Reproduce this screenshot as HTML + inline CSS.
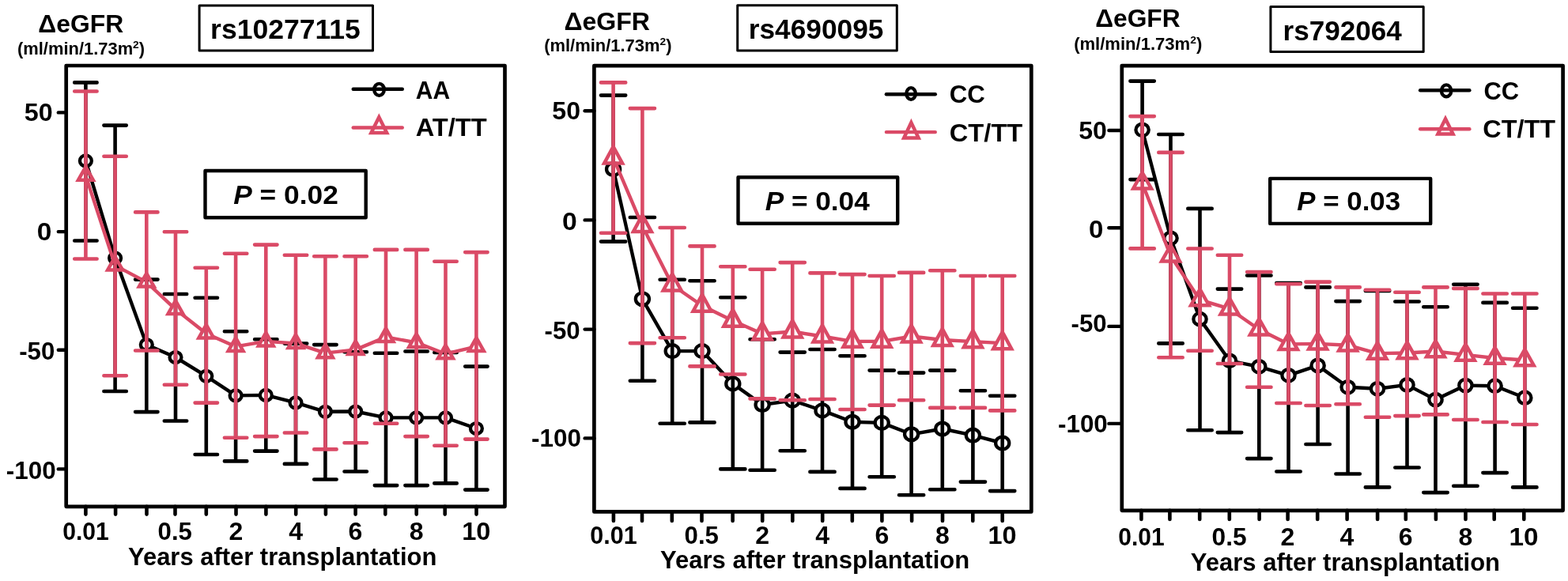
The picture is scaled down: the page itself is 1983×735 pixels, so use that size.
<!DOCTYPE html>
<html><head><meta charset="utf-8"><title>eGFR figure</title>
<style>
html,body{margin:0;padding:0;background:#fff;}
body{width:1983px;height:735px;overflow:hidden;}
svg{display:block;}
text{font-family:'Liberation Sans', Arial, sans-serif;font-weight:bold;fill:#000;}
</style></head>
<body>
<svg width="1983" height="735" viewBox="0 0 1983 735">
<defs><mask id="m0" maskUnits="userSpaceOnUse" x="0" y="0" width="1983" height="735"><rect width="1983" height="735" fill="#fff"/><path d="M108.4 211.08L117.8 227.75H99ZM145.6 324.78L155 341.45H136.2ZM185.3 345.78L194.7 362.45H175.9ZM222 380.28L231.4 396.95H212.6ZM260.8 410.78L270.2 427.45H251.4ZM298.1 427.28L307.5 443.95H288.7ZM336.3 420.78L345.7 437.45H326.9ZM374 423.28L383.4 439.95H364.6ZM411.4 435.48L420.8 452.15H402ZM449.7 431.28L459.1 447.95H440.3ZM488 415.28L497.4 431.95H478.6ZM526.6 422.28L536 438.95H517.2ZM563.5 436.58L572.9 453.25H554.1ZM602.4 427.28L611.8 443.95H593Z" fill="#000"/></mask><mask id="m1" maskUnits="userSpaceOnUse" x="0" y="0" width="1983" height="735"><rect width="1983" height="735" fill="#fff"/><path d="M775.6 185.5L787.06 206.55H764.14ZM812.4 272L823.86 293.05H800.94ZM850.2 346.5L861.66 367.55H838.74ZM888 372.7L899.46 393.75H876.54ZM926.8 391.8L938.26 412.85H915.34ZM964.1 408.3L975.56 429.35H952.64ZM1002.2 405.5L1013.66 426.55H990.74ZM1040 411.5L1051.46 432.55H1028.54ZM1078 417.8L1089.46 438.85H1066.54ZM1115.2 417.8L1126.66 438.85H1103.74ZM1152.6 411.5L1164.06 432.55H1141.14ZM1191.8 416L1203.26 437.05H1180.34ZM1230.4 418.1L1241.86 439.15H1218.94ZM1267.7 420.1L1279.16 441.15H1256.24Z" fill="#000"/></mask><mask id="m2" maskUnits="userSpaceOnUse" x="0" y="0" width="1983" height="735"><rect width="1983" height="735" fill="#fff"/><path d="M1444.6 218.28L1456 238.45H1433.2ZM1480.5 310.28L1491.9 330.45H1469.1ZM1517.5 365.98L1528.9 386.15H1506.1ZM1555 377.28L1566.4 397.45H1543.6ZM1592.3 403.28L1603.7 423.45H1580.9ZM1629.5 421.88L1640.9 442.05H1618.1ZM1666.6 421.38L1678 441.55H1655.2ZM1704.6 423.28L1716 443.45H1693.2ZM1742 433.68L1753.4 453.85H1730.6ZM1779.5 432.98L1790.9 453.15H1768.1ZM1815.5 431.08L1826.9 451.25H1804.1ZM1853.4 435.48L1864.8 455.65H1842ZM1890.6 439.58L1902 459.75H1879.2ZM1928.3 441.98L1939.7 462.15H1916.9Z" fill="#000"/></mask></defs>
<rect width="1983" height="735" fill="#fff"/>
<rect x="83.7" y="83" width="554.8" height="557.8" fill="none" stroke="#000" stroke-width="4.7" stroke-linejoin="round"/>
<line x1="73.8" y1="142.4" x2="83.7" y2="142.4" stroke="#000" stroke-width="4.4" stroke-linecap="round"/>
<text x="30.69" y="152.6" font-size="32" textLength="35.92" lengthAdjust="spacingAndGlyphs">50</text>
<line x1="73.8" y1="293.1" x2="83.7" y2="293.1" stroke="#000" stroke-width="4.4" stroke-linecap="round"/>
<text x="46.85" y="303.6" font-size="32" textLength="18.63" lengthAdjust="spacingAndGlyphs">0</text>
<line x1="73.8" y1="442.8" x2="83.7" y2="442.8" stroke="#000" stroke-width="4.4" stroke-linecap="round"/>
<text x="24.22" y="454.8" font-size="32" textLength="45.09" lengthAdjust="spacingAndGlyphs">-50</text>
<line x1="73.8" y1="593.4" x2="83.7" y2="593.4" stroke="#000" stroke-width="4.4" stroke-linecap="round"/>
<text x="7.82" y="605.7" font-size="32" textLength="62.91" lengthAdjust="spacingAndGlyphs">-100</text>
<line x1="108.4" y1="640.8" x2="108.4" y2="650.6" stroke="#000" stroke-width="4.6" stroke-linecap="round"/>
<text x="79.21" y="682.9" font-size="32" textLength="58.65" lengthAdjust="spacingAndGlyphs">0.01</text>
<line x1="146.1" y1="640.8" x2="146.1" y2="650.6" stroke="#000" stroke-width="4.6" stroke-linecap="round"/>
<line x1="185.5" y1="640.8" x2="185.5" y2="650.6" stroke="#000" stroke-width="4.6" stroke-linecap="round"/>
<line x1="221.5" y1="640.8" x2="221.5" y2="650.6" stroke="#000" stroke-width="4.6" stroke-linecap="round"/>
<text x="199.58" y="682.9" font-size="32" textLength="43.35" lengthAdjust="spacingAndGlyphs">0.5</text>
<line x1="260.8" y1="640.8" x2="260.8" y2="650.6" stroke="#000" stroke-width="4.6" stroke-linecap="round"/>
<line x1="298.5" y1="640.8" x2="298.5" y2="650.6" stroke="#000" stroke-width="4.6" stroke-linecap="round"/>
<text x="289.5" y="682.9" font-size="32" textLength="17.8" lengthAdjust="spacingAndGlyphs">2</text>
<line x1="336.4" y1="640.8" x2="336.4" y2="650.6" stroke="#000" stroke-width="4.6" stroke-linecap="round"/>
<line x1="374.2" y1="640.8" x2="374.2" y2="650.6" stroke="#000" stroke-width="4.6" stroke-linecap="round"/>
<text x="365.2" y="682.9" font-size="32" textLength="17.8" lengthAdjust="spacingAndGlyphs">4</text>
<line x1="411.9" y1="640.8" x2="411.9" y2="650.6" stroke="#000" stroke-width="4.6" stroke-linecap="round"/>
<line x1="449.6" y1="640.8" x2="449.6" y2="650.6" stroke="#000" stroke-width="4.6" stroke-linecap="round"/>
<text x="440.6" y="682.9" font-size="32" textLength="17.8" lengthAdjust="spacingAndGlyphs">6</text>
<line x1="487.3" y1="640.8" x2="487.3" y2="650.6" stroke="#000" stroke-width="4.6" stroke-linecap="round"/>
<line x1="526.7" y1="640.8" x2="526.7" y2="650.6" stroke="#000" stroke-width="4.6" stroke-linecap="round"/>
<text x="517.7" y="682.9" font-size="32" textLength="17.8" lengthAdjust="spacingAndGlyphs">8</text>
<line x1="562.7" y1="640.8" x2="562.7" y2="650.6" stroke="#000" stroke-width="4.6" stroke-linecap="round"/>
<line x1="602.5" y1="640.8" x2="602.5" y2="650.6" stroke="#000" stroke-width="4.6" stroke-linecap="round"/>
<text x="584.16" y="682.9" font-size="32" textLength="36.26" lengthAdjust="spacingAndGlyphs">10</text>
<text x="162.03" y="715.4" font-size="32" textLength="390.3" lengthAdjust="spacingAndGlyphs">Years after transplantation</text>
<text x="48.3" y="40.8" font-size="32" textLength="107.83" lengthAdjust="spacingAndGlyphs">&#916;eGFR</text>
<text x="21.98" y="68.9" font-size="21.5" textLength="161.12" lengthAdjust="spacingAndGlyphs">(ml/min/1.73m<tspan font-size="13.5" dy="-7.9">2</tspan><tspan dy="7.9">)</tspan></text>
<rect x="252.1" y="7" width="219.4" height="56.9" fill="none" stroke="#000" stroke-width="3" stroke-linejoin="round"/>
<text x="266.1" y="49.4" font-size="35.5" textLength="189.66" lengthAdjust="spacingAndGlyphs">rs10277115</text>
<rect x="259.5" y="216" width="203.2" height="59.2" fill="none" stroke="#000" stroke-width="4.4" stroke-linejoin="round"/>
<text x="295.26" y="257.5" font-size="34" textLength="132.51" lengthAdjust="spacingAndGlyphs"><tspan font-style="italic">P</tspan> = 0.02</text>
<polyline points="108.4,203.4 145.6,326.4 185.3,436 222,452 260.8,475.8 298.1,500.4 336.3,499.9 374,509.4 411.4,520.8 449.7,520.5 488,528.4 526.6,528.4 563.5,528.4 602.4,542" fill="none" stroke="#000" stroke-width="4.4" stroke-linejoin="round"/>
<ellipse cx="108.4" cy="203.4" rx="7.45" ry="6.95" fill="#fff" stroke="#000" stroke-width="4.3"/>
<ellipse cx="145.6" cy="326.4" rx="7.45" ry="6.95" fill="#fff" stroke="#000" stroke-width="4.3"/>
<ellipse cx="185.3" cy="436" rx="7.45" ry="6.95" fill="#fff" stroke="#000" stroke-width="4.3"/>
<ellipse cx="222" cy="452" rx="7.45" ry="6.95" fill="#fff" stroke="#000" stroke-width="4.3"/>
<ellipse cx="260.8" cy="475.8" rx="7.45" ry="6.95" fill="#fff" stroke="#000" stroke-width="4.3"/>
<ellipse cx="298.1" cy="500.4" rx="7.45" ry="6.95" fill="#fff" stroke="#000" stroke-width="4.3"/>
<ellipse cx="336.3" cy="499.9" rx="7.45" ry="6.95" fill="#fff" stroke="#000" stroke-width="4.3"/>
<ellipse cx="374" cy="509.4" rx="7.45" ry="6.95" fill="#fff" stroke="#000" stroke-width="4.3"/>
<ellipse cx="411.4" cy="520.8" rx="7.45" ry="6.95" fill="#fff" stroke="#000" stroke-width="4.3"/>
<ellipse cx="449.7" cy="520.5" rx="7.45" ry="6.95" fill="#fff" stroke="#000" stroke-width="4.3"/>
<ellipse cx="488" cy="528.4" rx="7.45" ry="6.95" fill="#fff" stroke="#000" stroke-width="4.3"/>
<ellipse cx="526.6" cy="528.4" rx="7.45" ry="6.95" fill="#fff" stroke="#000" stroke-width="4.3"/>
<ellipse cx="563.5" cy="528.4" rx="7.45" ry="6.95" fill="#fff" stroke="#000" stroke-width="4.3"/>
<ellipse cx="602.4" cy="542" rx="7.45" ry="6.95" fill="#fff" stroke="#000" stroke-width="4.3"/>
<path d="M108.4 104.4V304.5M94.2 104.4H122.6M94.2 304.5H122.6M145.6 158.6V495M131.4 158.6H159.8M131.4 495H159.8M185.3 353.6V521.1M171.1 353.6H199.5M171.1 521.1H199.5M222 372V532.5M207.8 372H236.2M207.8 532.5H236.2M260.8 376.8V575M246.6 376.8H275M246.6 575H275M298.1 419.3V583.4M283.9 419.3H312.3M283.9 583.4H312.3M336.3 429.3V570.6M322.1 429.3H350.5M322.1 570.6H350.5M374 434.6V586.9M359.8 434.6H388.2M359.8 586.9H388.2M411.4 436.1V606.5M397.2 436.1H425.6M397.2 606.5H425.6M449.7 445.3V596.5M435.5 445.3H463.9M435.5 596.5H463.9M488 446.8V614.1M473.8 446.8H502.2M473.8 614.1H502.2M526.6 444.5V614.1M512.4 444.5H540.8M512.4 614.1H540.8M563.5 446V611.4M549.3 446H577.7M549.3 611.4H577.7M602.4 463.6V619.6M588.2 463.6H616.6M588.2 619.6H616.6" fill="none" stroke="#000" stroke-width="4.6" stroke-linecap="round"/>
<polyline points="108.4,222.19 145.6,335.89 185.3,356.89 222,391.39 260.8,421.89 298.1,438.39 336.3,431.89 374,434.39 411.4,446.59 449.7,442.39 488,426.39 526.6,433.39 563.5,447.69 602.4,438.39" fill="none" stroke="#DA4A66" stroke-width="4.4" stroke-linejoin="round" mask="url(#m0)"/>
<path d="M108.4 211.08L117.8 227.75H99ZM145.6 324.78L155 341.45H136.2ZM185.3 345.78L194.7 362.45H175.9ZM222 380.28L231.4 396.95H212.6ZM260.8 410.78L270.2 427.45H251.4ZM298.1 427.28L307.5 443.95H288.7ZM336.3 420.78L345.7 437.45H326.9ZM374 423.28L383.4 439.95H364.6ZM411.4 435.48L420.8 452.15H402ZM449.7 431.28L459.1 447.95H440.3ZM488 415.28L497.4 431.95H478.6ZM526.6 422.28L536 438.95H517.2ZM563.5 436.58L572.9 453.25H554.1ZM602.4 427.28L611.8 443.95H593Z" fill="none" stroke="#DA4A66" stroke-width="4.5" stroke-linejoin="miter"/>
<path d="M108.4 115.5V327.5M94.2 115.5H122.6M94.2 327.5H122.6M145.6 197.8V475.2M131.4 197.8H159.8M131.4 475.2H159.8M185.3 268.4V443.5M171.1 268.4H199.5M171.1 443.5H199.5M222 293.3V486.8M207.8 293.3H236.2M207.8 486.8H236.2M260.8 338.8V509.6M246.6 338.8H275M246.6 509.6H275M298.1 320.7V553.7M283.9 320.7H312.3M283.9 553.7H312.3M336.3 309.6V552.1M322.1 309.6H350.5M322.1 552.1H350.5M374 322.7V547.5M359.8 322.7H388.2M359.8 547.5H388.2M411.4 324.3V568.4M397.2 324.3H425.6M397.2 568.4H425.6M449.7 324.2V560.3M435.5 324.2H463.9M435.5 560.3H463.9M488 315.9V535.8M473.8 315.9H502.2M473.8 535.8H502.2M526.6 315.9V552.1M512.4 315.9H540.8M512.4 552.1H540.8M563.5 330.8V563.8M549.3 330.8H577.7M549.3 563.8H577.7M602.4 319.1V555.6M588.2 319.1H616.6M588.2 555.6H616.6" fill="none" stroke="#DA4A66" stroke-width="4.6" stroke-linecap="round"/>
<line x1="446.7" y1="112.8" x2="508.8" y2="112.8" stroke="#000" stroke-width="4.4" stroke-linecap="round"/>
<ellipse cx="479.5" cy="113.3" rx="6.35" ry="7.5" fill="none" stroke="#000" stroke-width="4.3"/>
<line x1="446.7" y1="161.5" x2="508.8" y2="161.5" stroke="#DA4A66" stroke-width="4.4" stroke-linecap="round"/>
<path d="M479.3 148.18L489.16 167.9H469.44Z" fill="none" stroke="#DA4A66" stroke-width="4.5" stroke-linejoin="miter"/>
<text x="525.75" y="124.8" font-size="31.5" textLength="43.28" lengthAdjust="spacingAndGlyphs">AA</text>
<text x="525.66" y="172.4" font-size="31.5" textLength="90.02" lengthAdjust="spacingAndGlyphs">AT/TT</text>
<rect x="751.4" y="83.1" width="552.9" height="564.3" fill="none" stroke="#000" stroke-width="4.7" stroke-linejoin="round"/>
<line x1="739.6" y1="140.2" x2="751.4" y2="140.2" stroke="#000" stroke-width="4.4" stroke-linecap="round"/>
<text x="698.3" y="151" font-size="32" textLength="35.7" lengthAdjust="spacingAndGlyphs">50</text>
<line x1="739.6" y1="278.4" x2="751.4" y2="278.4" stroke="#000" stroke-width="4.4" stroke-linecap="round"/>
<text x="711.05" y="290.6" font-size="32" textLength="18.75" lengthAdjust="spacingAndGlyphs">0</text>
<line x1="739.6" y1="416.6" x2="751.4" y2="416.6" stroke="#000" stroke-width="4.4" stroke-linecap="round"/>
<text x="688.52" y="428.5" font-size="32" textLength="45.09" lengthAdjust="spacingAndGlyphs">-50</text>
<line x1="739.6" y1="554.4" x2="751.4" y2="554.4" stroke="#000" stroke-width="4.4" stroke-linecap="round"/>
<text x="672.12" y="564.9" font-size="32" textLength="62.91" lengthAdjust="spacingAndGlyphs">-100</text>
<line x1="775.9" y1="647.4" x2="775.9" y2="658.9" stroke="#000" stroke-width="4.6" stroke-linecap="round"/>
<text x="746.35" y="687.9" font-size="32" textLength="59.37" lengthAdjust="spacingAndGlyphs">0.01</text>
<line x1="812" y1="647.4" x2="812" y2="658.9" stroke="#000" stroke-width="4.6" stroke-linecap="round"/>
<line x1="849.8" y1="647.4" x2="849.8" y2="658.9" stroke="#000" stroke-width="4.6" stroke-linecap="round"/>
<line x1="887.5" y1="647.4" x2="887.5" y2="658.9" stroke="#000" stroke-width="4.6" stroke-linecap="round"/>
<text x="865.58" y="687.9" font-size="32" textLength="43.35" lengthAdjust="spacingAndGlyphs">0.5</text>
<line x1="926.6" y1="647.4" x2="926.6" y2="658.9" stroke="#000" stroke-width="4.6" stroke-linecap="round"/>
<line x1="964.2" y1="647.4" x2="964.2" y2="658.9" stroke="#000" stroke-width="4.6" stroke-linecap="round"/>
<text x="955.2" y="687.9" font-size="32" textLength="17.8" lengthAdjust="spacingAndGlyphs">2</text>
<line x1="1002.3" y1="647.4" x2="1002.3" y2="658.9" stroke="#000" stroke-width="4.6" stroke-linecap="round"/>
<line x1="1040.2" y1="647.4" x2="1040.2" y2="658.9" stroke="#000" stroke-width="4.6" stroke-linecap="round"/>
<text x="1031.2" y="687.9" font-size="32" textLength="17.8" lengthAdjust="spacingAndGlyphs">4</text>
<line x1="1077.8" y1="647.4" x2="1077.8" y2="658.9" stroke="#000" stroke-width="4.6" stroke-linecap="round"/>
<line x1="1115.4" y1="647.4" x2="1115.4" y2="658.9" stroke="#000" stroke-width="4.6" stroke-linecap="round"/>
<text x="1106.4" y="687.9" font-size="32" textLength="17.8" lengthAdjust="spacingAndGlyphs">6</text>
<line x1="1153.1" y1="647.4" x2="1153.1" y2="658.9" stroke="#000" stroke-width="4.6" stroke-linecap="round"/>
<line x1="1192" y1="647.4" x2="1192" y2="658.9" stroke="#000" stroke-width="4.6" stroke-linecap="round"/>
<text x="1183" y="687.9" font-size="32" textLength="17.8" lengthAdjust="spacingAndGlyphs">8</text>
<line x1="1230.3" y1="647.4" x2="1230.3" y2="658.9" stroke="#000" stroke-width="4.6" stroke-linecap="round"/>
<line x1="1267.7" y1="647.4" x2="1267.7" y2="658.9" stroke="#000" stroke-width="4.6" stroke-linecap="round"/>
<text x="1249.47" y="687.9" font-size="32" textLength="36.04" lengthAdjust="spacingAndGlyphs">10</text>
<text x="835.03" y="718.7" font-size="32" textLength="391.1" lengthAdjust="spacingAndGlyphs">Years after transplantation</text>
<text x="713.4" y="37.5" font-size="32" textLength="108.65" lengthAdjust="spacingAndGlyphs">&#916;eGFR</text>
<text x="688.18" y="64.6" font-size="21.5" textLength="161.32" lengthAdjust="spacingAndGlyphs">(ml/min/1.73m<tspan font-size="13.5" dy="-7.9">2</tspan><tspan dy="7.9">)</tspan></text>
<rect x="932.7" y="6.8" width="201.6" height="57.3" fill="none" stroke="#000" stroke-width="3" stroke-linejoin="round"/>
<text x="946.81" y="49.3" font-size="35.5" textLength="170.55" lengthAdjust="spacingAndGlyphs">rs4690095</text>
<rect x="933.5" y="224.2" width="201.7" height="58.6" fill="none" stroke="#000" stroke-width="4.4" stroke-linejoin="round"/>
<text x="967.67" y="266.1" font-size="34" textLength="132.07" lengthAdjust="spacingAndGlyphs"><tspan font-style="italic">P</tspan> = 0.04</text>
<polyline points="775.6,214 812.4,378.3 850.2,444.1 888,444.1 926.8,485.4 964.1,512 1002.2,506.6 1040,519.4 1078,533.8 1115.2,534.9 1152.6,549.3 1191.8,542.5 1230.4,550.7 1267.7,560.5" fill="none" stroke="#000" stroke-width="4.4" stroke-linejoin="round"/>
<ellipse cx="775.6" cy="214" rx="8.55" ry="7.95" fill="#fff" stroke="#000" stroke-width="4.3"/>
<ellipse cx="812.4" cy="378.3" rx="8.55" ry="7.95" fill="#fff" stroke="#000" stroke-width="4.3"/>
<ellipse cx="850.2" cy="444.1" rx="8.55" ry="7.95" fill="#fff" stroke="#000" stroke-width="4.3"/>
<ellipse cx="888" cy="444.1" rx="8.55" ry="7.95" fill="#fff" stroke="#000" stroke-width="4.3"/>
<ellipse cx="926.8" cy="485.4" rx="8.55" ry="7.95" fill="#fff" stroke="#000" stroke-width="4.3"/>
<ellipse cx="964.1" cy="512" rx="8.55" ry="7.95" fill="#fff" stroke="#000" stroke-width="4.3"/>
<ellipse cx="1002.2" cy="506.6" rx="8.55" ry="7.95" fill="#fff" stroke="#000" stroke-width="4.3"/>
<ellipse cx="1040" cy="519.4" rx="8.55" ry="7.95" fill="#fff" stroke="#000" stroke-width="4.3"/>
<ellipse cx="1078" cy="533.8" rx="8.55" ry="7.95" fill="#fff" stroke="#000" stroke-width="4.3"/>
<ellipse cx="1115.2" cy="534.9" rx="8.55" ry="7.95" fill="#fff" stroke="#000" stroke-width="4.3"/>
<ellipse cx="1152.6" cy="549.3" rx="8.55" ry="7.95" fill="#fff" stroke="#000" stroke-width="4.3"/>
<ellipse cx="1191.8" cy="542.5" rx="8.55" ry="7.95" fill="#fff" stroke="#000" stroke-width="4.3"/>
<ellipse cx="1230.4" cy="550.7" rx="8.55" ry="7.95" fill="#fff" stroke="#000" stroke-width="4.3"/>
<ellipse cx="1267.7" cy="560.5" rx="8.55" ry="7.95" fill="#fff" stroke="#000" stroke-width="4.3"/>
<path d="M775.6 120.6V305.6M760 120.6H791.2M760 305.6H791.2M812.4 275V481.8M796.8 275H828M796.8 481.8H828M850.2 353.8V535.7M834.6 353.8H865.8M834.6 535.7H865.8M888 355.2V534.4M872.4 355.2H903.6M872.4 534.4H903.6M926.8 376.2V593.4M911.2 376.2H942.4M911.2 593.4H942.4M964.1 429.3V594.8M948.5 429.3H979.7M948.5 594.8H979.7M1002.2 445.6V570.3M986.6 445.6H1017.8M986.6 570.3H1017.8M1040 442V596.9M1024.4 442H1055.6M1024.4 596.9H1055.6M1078 450.3V617.9M1062.4 450.3H1093.6M1062.4 617.9H1093.6M1115.2 468.6V603.2M1099.6 468.6H1130.8M1099.6 603.2H1130.8M1152.6 471.6V626.3M1137 471.6H1168.2M1137 626.3H1168.2M1191.8 468.6V619.3M1176.2 468.6H1207.4M1176.2 619.3H1207.4M1230.4 494.3V609.6M1214.8 494.3H1246M1214.8 609.6H1246M1267.7 500.8V621.1M1252.1 500.8H1283.3M1252.1 621.1H1283.3" fill="none" stroke="#000" stroke-width="4.6" stroke-linecap="round"/>
<polyline points="775.6,199.53 812.4,286.03 850.2,360.53 888,386.73 926.8,405.83 964.1,422.33 1002.2,419.53 1040,425.53 1078,431.83 1115.2,431.83 1152.6,425.53 1191.8,430.03 1230.4,432.13 1267.7,434.13" fill="none" stroke="#DA4A66" stroke-width="4.4" stroke-linejoin="round" mask="url(#m1)"/>
<path d="M775.6 185.5L787.06 206.55H764.14ZM812.4 272L823.86 293.05H800.94ZM850.2 346.5L861.66 367.55H838.74ZM888 372.7L899.46 393.75H876.54ZM926.8 391.8L938.26 412.85H915.34ZM964.1 408.3L975.56 429.35H952.64ZM1002.2 405.5L1013.66 426.55H990.74ZM1040 411.5L1051.46 432.55H1028.54ZM1078 417.8L1089.46 438.85H1066.54ZM1115.2 417.8L1126.66 438.85H1103.74ZM1152.6 411.5L1164.06 432.55H1141.14ZM1191.8 416L1203.26 437.05H1180.34ZM1230.4 418.1L1241.86 439.15H1218.94ZM1267.7 420.1L1279.16 441.15H1256.24Z" fill="none" stroke="#DA4A66" stroke-width="4.5" stroke-linejoin="miter"/>
<path d="M775.6 104.4V294.8M760 104.4H791.2M760 294.8H791.2M812.4 137.1V434.1M796.8 137.1H828M796.8 434.1H828M850.2 288V427.3M834.6 288H865.8M834.6 427.3H865.8M888 311.4V463.4M872.4 311.4H903.6M872.4 463.4H903.6M926.8 337.2V473.5M911.2 337.2H942.4M911.2 473.5H942.4M964.1 340.8V504.4M948.5 340.8H979.7M948.5 504.4H979.7M1002.2 332.1V506.3M986.6 332.1H1017.8M986.6 506.3H1017.8M1040 345.4V505M1024.4 345.4H1055.6M1024.4 505H1055.6M1078 347.1V518M1062.4 347.1H1093.6M1062.4 518H1093.6M1115.2 349V512.6M1099.6 349H1130.8M1099.6 512.6H1130.8M1152.6 344.9V506.3M1137 344.9H1168.2M1137 506.3H1168.2M1191.8 342.2V515.9M1176.2 342.2H1207.4M1176.2 515.9H1207.4M1230.4 349V515.9M1214.8 349H1246M1214.8 515.9H1246M1267.7 349V519.4M1252.1 349H1283.3M1252.1 519.4H1283.3" fill="none" stroke="#DA4A66" stroke-width="4.6" stroke-linecap="round"/>
<line x1="1120.9" y1="119.2" x2="1182.8" y2="119.2" stroke="#000" stroke-width="4.4" stroke-linecap="round"/>
<ellipse cx="1152.1" cy="118.5" rx="5.8" ry="7.3" fill="none" stroke="#000" stroke-width="4.3"/>
<line x1="1120.9" y1="167.1" x2="1182.8" y2="167.1" stroke="#DA4A66" stroke-width="4.4" stroke-linecap="round"/>
<path d="M1152.4 155.1L1161.64 174.6H1143.16Z" fill="none" stroke="#DA4A66" stroke-width="4.5" stroke-linejoin="miter"/>
<text x="1200.81" y="129.7" font-size="31.5" textLength="45.08" lengthAdjust="spacingAndGlyphs">CC</text>
<text x="1200.76" y="179.1" font-size="31.5" textLength="92.58" lengthAdjust="spacingAndGlyphs">CT/TT</text>
<rect x="1418.8" y="83.1" width="557.8" height="562.7" fill="none" stroke="#000" stroke-width="4.7" stroke-linejoin="round"/>
<line x1="1402.4" y1="165" x2="1418.8" y2="165" stroke="#000" stroke-width="4.4" stroke-linecap="round"/>
<text x="1364.2" y="176" font-size="32" textLength="35.7" lengthAdjust="spacingAndGlyphs">50</text>
<line x1="1402.4" y1="288.2" x2="1418.8" y2="288.2" stroke="#000" stroke-width="4.4" stroke-linecap="round"/>
<text x="1377.07" y="300.6" font-size="32" textLength="18.39" lengthAdjust="spacingAndGlyphs">0</text>
<line x1="1402.4" y1="412.9" x2="1418.8" y2="412.9" stroke="#000" stroke-width="4.4" stroke-linecap="round"/>
<text x="1354.53" y="420.2" font-size="32" textLength="44.99" lengthAdjust="spacingAndGlyphs">-50</text>
<line x1="1402.4" y1="535.9" x2="1418.8" y2="535.9" stroke="#000" stroke-width="4.4" stroke-linecap="round"/>
<text x="1338.02" y="546.6" font-size="32" textLength="62.81" lengthAdjust="spacingAndGlyphs">-100</text>
<line x1="1443.4" y1="645.8" x2="1443.4" y2="657" stroke="#000" stroke-width="4.6" stroke-linecap="round"/>
<text x="1414.36" y="689.8" font-size="32" textLength="58.34" lengthAdjust="spacingAndGlyphs">0.01</text>
<line x1="1479.4" y1="645.8" x2="1479.4" y2="657" stroke="#000" stroke-width="4.6" stroke-linecap="round"/>
<line x1="1517.2" y1="645.8" x2="1517.2" y2="657" stroke="#000" stroke-width="4.6" stroke-linecap="round"/>
<line x1="1554.8" y1="645.8" x2="1554.8" y2="657" stroke="#000" stroke-width="4.6" stroke-linecap="round"/>
<text x="1532.51" y="689.8" font-size="32" textLength="44.07" lengthAdjust="spacingAndGlyphs">0.5</text>
<line x1="1592.6" y1="645.8" x2="1592.6" y2="657" stroke="#000" stroke-width="4.6" stroke-linecap="round"/>
<line x1="1628.6" y1="645.8" x2="1628.6" y2="657" stroke="#000" stroke-width="4.6" stroke-linecap="round"/>
<text x="1619.6" y="689.8" font-size="32" textLength="17.8" lengthAdjust="spacingAndGlyphs">2</text>
<line x1="1666.2" y1="645.8" x2="1666.2" y2="657" stroke="#000" stroke-width="4.6" stroke-linecap="round"/>
<line x1="1703.6" y1="645.8" x2="1703.6" y2="657" stroke="#000" stroke-width="4.6" stroke-linecap="round"/>
<text x="1694.6" y="689.8" font-size="32" textLength="17.8" lengthAdjust="spacingAndGlyphs">4</text>
<line x1="1742.1" y1="645.8" x2="1742.1" y2="657" stroke="#000" stroke-width="4.6" stroke-linecap="round"/>
<line x1="1777.8" y1="645.8" x2="1777.8" y2="657" stroke="#000" stroke-width="4.6" stroke-linecap="round"/>
<text x="1768.8" y="689.8" font-size="32" textLength="17.8" lengthAdjust="spacingAndGlyphs">6</text>
<line x1="1815.9" y1="645.8" x2="1815.9" y2="657" stroke="#000" stroke-width="4.6" stroke-linecap="round"/>
<line x1="1853.5" y1="645.8" x2="1853.5" y2="657" stroke="#000" stroke-width="4.6" stroke-linecap="round"/>
<text x="1844.5" y="689.8" font-size="32" textLength="17.8" lengthAdjust="spacingAndGlyphs">8</text>
<line x1="1889.7" y1="645.8" x2="1889.7" y2="657" stroke="#000" stroke-width="4.6" stroke-linecap="round"/>
<line x1="1927.3" y1="645.8" x2="1927.3" y2="657" stroke="#000" stroke-width="4.6" stroke-linecap="round"/>
<text x="1908.57" y="689.8" font-size="32" textLength="37.04" lengthAdjust="spacingAndGlyphs">10</text>
<text x="1505.83" y="721.9" font-size="32" textLength="391.2" lengthAdjust="spacingAndGlyphs">Years after transplantation</text>
<text x="1385.21" y="34.1" font-size="32" textLength="107.42" lengthAdjust="spacingAndGlyphs">&#916;eGFR</text>
<text x="1358.17" y="62.8" font-size="21.5" textLength="162.13" lengthAdjust="spacingAndGlyphs">(ml/min/1.73m<tspan font-size="13.5" dy="-7.9">2</tspan><tspan dy="7.9">)</tspan></text>
<rect x="1606.9" y="8.5" width="193.3" height="56.9" fill="none" stroke="#000" stroke-width="3" stroke-linejoin="round"/>
<text x="1622.52" y="50.8" font-size="35.5" textLength="150.31" lengthAdjust="spacingAndGlyphs">rs792064</text>
<rect x="1606.2" y="225.9" width="203" height="57" fill="none" stroke="#000" stroke-width="4.4" stroke-linejoin="round"/>
<text x="1640.38" y="265.7" font-size="34" textLength="130.67" lengthAdjust="spacingAndGlyphs"><tspan font-style="italic">P</tspan> = 0.03</text>
<polyline points="1444.6,164.3 1480.5,301.3 1517.5,403.7 1555,456.3 1592.3,463.8 1629.5,474.8 1666.6,462.4 1704.6,489.8 1742,491.8 1779.5,486.9 1815.5,505.6 1853.4,487.6 1890.6,488.2 1928.3,503.2" fill="none" stroke="#000" stroke-width="4.4" stroke-linejoin="round"/>
<ellipse cx="1444.6" cy="164.3" rx="8.15" ry="7.75" fill="#fff" stroke="#000" stroke-width="4.3"/>
<ellipse cx="1480.5" cy="301.3" rx="8.15" ry="7.75" fill="#fff" stroke="#000" stroke-width="4.3"/>
<ellipse cx="1517.5" cy="403.7" rx="8.15" ry="7.75" fill="#fff" stroke="#000" stroke-width="4.3"/>
<ellipse cx="1555" cy="456.3" rx="8.15" ry="7.75" fill="#fff" stroke="#000" stroke-width="4.3"/>
<ellipse cx="1592.3" cy="463.8" rx="8.15" ry="7.75" fill="#fff" stroke="#000" stroke-width="4.3"/>
<ellipse cx="1629.5" cy="474.8" rx="8.15" ry="7.75" fill="#fff" stroke="#000" stroke-width="4.3"/>
<ellipse cx="1666.6" cy="462.4" rx="8.15" ry="7.75" fill="#fff" stroke="#000" stroke-width="4.3"/>
<ellipse cx="1704.6" cy="489.8" rx="8.15" ry="7.75" fill="#fff" stroke="#000" stroke-width="4.3"/>
<ellipse cx="1742" cy="491.8" rx="8.15" ry="7.75" fill="#fff" stroke="#000" stroke-width="4.3"/>
<ellipse cx="1779.5" cy="486.9" rx="8.15" ry="7.75" fill="#fff" stroke="#000" stroke-width="4.3"/>
<ellipse cx="1815.5" cy="505.6" rx="8.15" ry="7.75" fill="#fff" stroke="#000" stroke-width="4.3"/>
<ellipse cx="1853.4" cy="487.6" rx="8.15" ry="7.75" fill="#fff" stroke="#000" stroke-width="4.3"/>
<ellipse cx="1890.6" cy="488.2" rx="8.15" ry="7.75" fill="#fff" stroke="#000" stroke-width="4.3"/>
<ellipse cx="1928.3" cy="503.2" rx="8.15" ry="7.75" fill="#fff" stroke="#000" stroke-width="4.3"/>
<path d="M1444.6 102.6V227.1M1429.4 102.6H1459.8M1429.4 227.1H1459.8M1480.5 170V434.4M1465.3 170H1495.7M1465.3 434.4H1495.7M1517.5 263.9V544.3M1502.3 263.9H1532.7M1502.3 544.3H1532.7M1555 365.6V547.1M1539.8 365.6H1570.2M1539.8 547.1H1570.2M1592.3 348.5V580.1M1577.1 348.5H1607.5M1577.1 580.1H1607.5M1629.5 358V596.5M1614.3 358H1644.7M1614.3 596.5H1644.7M1666.6 363.4V562M1651.4 363.4H1681.8M1651.4 562H1681.8M1704.6 381.1V599.5M1689.4 381.1H1719.8M1689.4 599.5H1719.8M1742 368V616.4M1726.8 368H1757.2M1726.8 616.4H1757.2M1779.5 381.5V591.5M1764.3 381.5H1794.7M1764.3 591.5H1794.7M1815.5 388.2V623.1M1800.3 388.2H1830.7M1800.3 623.1H1830.7M1853.4 359.8V614.7M1838.2 359.8H1868.6M1838.2 614.7H1868.6M1890.6 382.9V598.1M1875.4 382.9H1905.8M1875.4 598.1H1905.8M1928.3 389.7V616.4M1913.1 389.7H1943.5M1913.1 616.4H1943.5" fill="none" stroke="#000" stroke-width="4.6" stroke-linecap="round"/>
<polyline points="1444.6,231.73 1480.5,323.73 1517.5,379.43 1555,390.73 1592.3,416.73 1629.5,435.33 1666.6,434.83 1704.6,436.73 1742,447.13 1779.5,446.43 1815.5,444.53 1853.4,448.93 1890.6,453.03 1928.3,455.43" fill="none" stroke="#DA4A66" stroke-width="4.4" stroke-linejoin="round" mask="url(#m2)"/>
<path d="M1444.6 218.28L1456 238.45H1433.2ZM1480.5 310.28L1491.9 330.45H1469.1ZM1517.5 365.98L1528.9 386.15H1506.1ZM1555 377.28L1566.4 397.45H1543.6ZM1592.3 403.28L1603.7 423.45H1580.9ZM1629.5 421.88L1640.9 442.05H1618.1ZM1666.6 421.38L1678 441.55H1655.2ZM1704.6 423.28L1716 443.45H1693.2ZM1742 433.68L1753.4 453.85H1730.6ZM1779.5 432.98L1790.9 453.15H1768.1ZM1815.5 431.08L1826.9 451.25H1804.1ZM1853.4 435.48L1864.8 455.65H1842ZM1890.6 439.58L1902 459.75H1879.2ZM1928.3 441.98L1939.7 462.15H1916.9Z" fill="none" stroke="#DA4A66" stroke-width="4.5" stroke-linejoin="miter"/>
<path d="M1444.6 147.1V314.4M1429.4 147.1H1459.8M1429.4 314.4H1459.8M1480.5 192.9V452.3M1465.3 192.9H1495.7M1465.3 452.3H1495.7M1517.5 314.5V443.7M1502.3 314.5H1532.7M1502.3 443.7H1532.7M1555 322.7V460M1539.8 322.7H1570.2M1539.8 460H1570.2M1592.3 344V489.8M1577.1 344H1607.5M1577.1 489.8H1607.5M1629.5 359.3V510M1614.3 359.3H1644.7M1614.3 510H1644.7M1666.6 356.6V513M1651.4 356.6H1681.8M1651.4 513H1681.8M1704.6 363.4V511.3M1689.4 363.4H1719.8M1689.4 511.3H1719.8M1742 366.7V527.7M1726.8 366.7H1757.2M1726.8 527.7H1757.2M1779.5 369.8V526.1M1764.3 369.8H1794.7M1764.3 526.1H1794.7M1815.5 363.4V524.4M1800.3 363.4H1830.7M1800.3 524.4H1830.7M1853.4 364.9V531M1838.2 364.9H1868.6M1838.2 531H1868.6M1890.6 371.5V534M1875.4 371.5H1905.8M1875.4 534H1905.8M1928.3 371.5V537M1913.1 371.5H1943.5M1913.1 537H1943.5" fill="none" stroke="#DA4A66" stroke-width="4.6" stroke-linecap="round"/>
<line x1="1796.1" y1="114.2" x2="1858.4" y2="114.2" stroke="#000" stroke-width="4.4" stroke-linecap="round"/>
<ellipse cx="1829.1" cy="114.9" rx="6.15" ry="7.45" fill="none" stroke="#000" stroke-width="4.3"/>
<line x1="1796.1" y1="163.3" x2="1858.4" y2="163.3" stroke="#DA4A66" stroke-width="4.4" stroke-linecap="round"/>
<path d="M1828 150.33L1837.56 169.45H1818.44Z" fill="none" stroke="#DA4A66" stroke-width="4.5" stroke-linejoin="miter"/>
<text x="1876.52" y="125.9" font-size="31.5" textLength="44.65" lengthAdjust="spacingAndGlyphs">CC</text>
<text x="1875.27" y="173.8" font-size="31.5" textLength="91.77" lengthAdjust="spacingAndGlyphs">CT/TT</text>
</svg>
</body></html>
